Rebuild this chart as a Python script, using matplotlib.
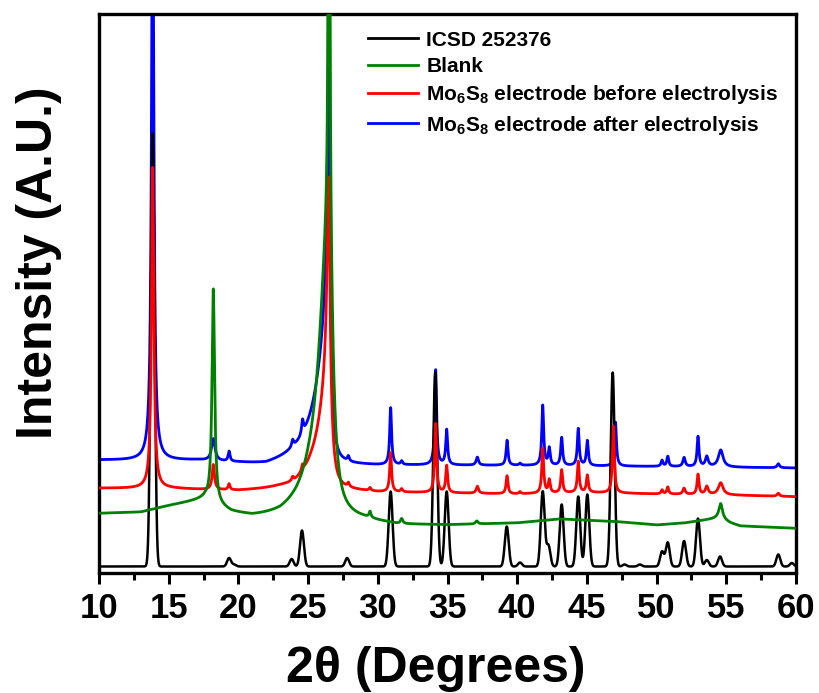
import numpy as np
import matplotlib.pyplot as plt
from matplotlib.ticker import MultipleLocator

# ---- data (intensity in arbitrary units) ----
# ICSD 252376 reference pattern: peak positions / heights (gaussian)
icsd_pos = [13.85, 19.33, 19.7, 23.82, 24.56, 27.8, 30.92, 34.12, 34.94, 39.25,
            40.2, 41.83, 42.24, 43.19, 44.38, 45.03, 46.85, 47.7, 48.8, 50.39,
            50.8, 51.97, 52.97, 53.6, 54.55, 58.73, 59.7]
icsd_amp = [433, 8.5, 2, 7.5, 36, 8.5, 75, 194, 75, 40,
            4, 75, 21, 62, 70, 72, 194, 2, 2, 15,
            24, 25.5, 48, 6.5, 10, 12, 3.5]
icsd_base = 6.5

# Blank (green): lorentzian peaks, left / right half widths
blank_pos = [18.2, 26.5, 26.5, 29.44, 31.71, 37.1, 54.6]
blank_amp = [214, 2000, 300, 6, 5, 3, 15]
blank_wl = [0.11, 0.03, 0.8, 0.08, 0.1, 0.1, 0.15]
blank_wr = [0.11, 0.03, 0.3, 0.08, 0.1, 0.1, 0.15]
blank_base_x = [10, 13, 15, 16.5, 17.6, 18.5, 19.5, 21, 23, 24.2, 25, 26.5, 28, 29,
                30.2, 31.5, 35, 40, 43, 47, 50, 52, 53.5, 54.5, 55.3, 56, 60]
blank_base_y = [59, 60, 66, 69.5, 72, 65, 58, 53, 52, 55, 59, 57, 55, 53.5,
                51, 48.5, 48, 50, 54, 51.5, 48, 50, 53, 55, 50, 47, 44.7]

# Mo6S8 before electrolysis (red)
before_pos = [13.85, 18.2, 19.33, 23.89, 24.6, 26.5, 26.5, 27.89, 29.44, 30.92,
              31.71, 34.15, 34.94, 37.14, 39.27, 40.2, 41.83, 42.3, 43.19, 44.38,
              45.03, 46.9, 50.39, 50.8, 51.97, 52.97, 53.6, 54.6, 58.73]
before_amp = [321, 25, 6, 4, 6, 213, 100, 4, 3, 39,
              3, 69, 27, 7, 18, 2, 45, 13, 23, 31,
              17, 67, 4, 7, 6, 20, 8, 12, 3]
before_wl = [0.1, 0.1, 0.08, 0.08, 0.08, 0.17, 0.9, 0.08, 0.08, 0.08,
             0.08, 0.08, 0.08, 0.1, 0.08, 0.08, 0.08, 0.08, 0.08, 0.08,
             0.08, 0.08, 0.08, 0.08, 0.1, 0.08, 0.12, 0.2, 0.1]
before_wr = [0.1, 0.1, 0.08, 0.08, 0.08, 0.08, 0.25, 0.08, 0.08, 0.08,
             0.08, 0.08, 0.08, 0.1, 0.08, 0.08, 0.08, 0.08, 0.08, 0.08,
             0.08, 0.08, 0.08, 0.08, 0.1, 0.08, 0.12, 0.2, 0.1]
before_base_x = [10, 15, 20, 23, 24, 25.2, 26.5, 28, 30, 40, 45, 50, 55, 60]
before_base_y = [84.5, 84, 81, 82, 81, 85, 83, 83, 81, 79, 80.5, 79, 78, 76.3]

# Mo6S8 after electrolysis (blue)
after_pos = [13.85, 18.2, 19.33, 23.89, 24.6, 26.5, 26.5, 27.89, 30.92, 31.71,
             34.15, 34.94, 37.14, 39.27, 40.2, 41.83, 42.3, 43.19, 44.38, 45.03,
             47.05, 50.39, 50.8, 51.97, 52.97, 53.6, 54.6, 58.73]
after_amp = [600, 22, 10, 7, 14, 265, 130, 5, 57, 3.5,
             95, 35, 8, 25, 2, 60, 17, 28, 37, 25,
             44, 6, 10, 9, 30, 10, 17, 4]
after_wl = [0.1, 0.15, 0.08, 0.08, 0.08, 0.17, 1.0, 0.08, 0.08, 0.08,
            0.08, 0.08, 0.1, 0.08, 0.08, 0.08, 0.08, 0.08, 0.08, 0.08,
            0.08, 0.08, 0.08, 0.1, 0.08, 0.12, 0.2, 0.1]
after_wr = [0.1, 0.15, 0.08, 0.08, 0.08, 0.07, 0.2, 0.08, 0.08, 0.08,
            0.08, 0.08, 0.1, 0.08, 0.08, 0.08, 0.08, 0.08, 0.08, 0.08,
            0.08, 0.08, 0.08, 0.1, 0.08, 0.12, 0.2, 0.1]
after_base_x = [10, 13, 17, 20, 22, 24, 26, 28, 30, 40, 50, 60]
after_base_y = [112.5, 112, 111.5, 108, 105, 109, 111, 109, 108, 107.5, 106.5, 105]

labels = ['ICSD 252376', 'Blank',
          r'Mo$_6$S$_8$ electrode before electrolysis',
          r'Mo$_6$S$_8$ electrode after electrolysis']


def lorentz_sum(x, pos, amp, wl, wr):
    y = np.zeros_like(x)
    for c, h, a, b in zip(pos, amp, wl, wr):
        w = np.where(x < c, a, b)
        y += h * w**2 / ((x - c)**2 + w**2)
    return y


def gauss_sum(x, pos, amp, s=0.14):
    y = np.zeros_like(x)
    for c, h in zip(pos, amp):
        y += h * np.exp(-0.5 * ((x - c) / s)**2)
    return y


x = np.linspace(10, 60, 10001)
y_icsd = icsd_base + gauss_sum(x, icsd_pos, icsd_amp)
y_blank = np.interp(x, blank_base_x, blank_base_y) + lorentz_sum(x, blank_pos, blank_amp, blank_wl, blank_wr)
y_before = np.interp(x, before_base_x, before_base_y) + lorentz_sum(x, before_pos, before_amp, before_wl, before_wr)
y_after = np.interp(x, after_base_x, after_base_y) + lorentz_sum(x, after_pos, after_amp, after_wl, after_wr)

# ---- fonts ----
plt.rcParams['font.family'] = ['Liberation Sans', 'DejaVu Sans']
plt.rcParams['font.weight'] = 'bold'
plt.rcParams['mathtext.fontset'] = 'custom'
plt.rcParams['mathtext.rm'] = 'Liberation Sans:bold'
plt.rcParams['mathtext.bf'] = 'Liberation Sans:bold'
plt.rcParams['mathtext.default'] = 'bf'

fig = plt.figure(figsize=(8.19, 6.93), dpi=100)
ax = fig.add_axes([99 / 819, 120 / 693, 697 / 819, 559 / 693])

lw = 2.0
l_after, = ax.plot(x, y_after, color='#0000ff', lw=lw, zorder=1)
l_icsd, = ax.plot(x, y_icsd, color='black', lw=1.8, zorder=2)
l_before, = ax.plot(x, y_before, color='#ff0000', lw=lw, zorder=3)
l_blank, = ax.plot(x, y_blank, color='#008000', lw=lw, zorder=4)

ax.set_xlim(10, 60)
ax.set_ylim(0, 559)
ax.set_yticks([])
ax.xaxis.set_major_locator(MultipleLocator(5))
ax.xaxis.set_minor_locator(MultipleLocator(2.5))
ax.tick_params(axis='x', which='major', direction='out', length=8, width=2.2, pad=6)
ax.tick_params(axis='x', which='minor', direction='out', length=5, width=2.2)
for sp in ax.spines.values():
    sp.set_linewidth(2.4)
for lab in ax.get_xticklabels():
    lab.set_fontsize(25)
    lab.set_fontweight('bold')

ax.set_xlabel('2θ (Degrees)', fontsize=36, fontweight='bold')
ax.xaxis.set_label_coords(0.483, -0.13)
ax.set_ylabel('Intensity (A.U.)', fontsize=36, fontweight='bold')
ax.yaxis.set_label_coords(-0.053, 0.556)

leg = ax.legend([l_icsd, l_blank, l_before, l_after], labels,
                loc='upper left', bbox_to_anchor=(0.374, 0.985), frameon=False,
                fontsize=15, handlelength=2.4, handletextpad=0.4, labelspacing=0.35,
                borderaxespad=0)
for t in leg.get_texts():
    t.set_fontweight('bold')
for h in leg.legend_handles:
    h.set_linewidth(2.0)

fig.savefig('out.png', dpi=100)
